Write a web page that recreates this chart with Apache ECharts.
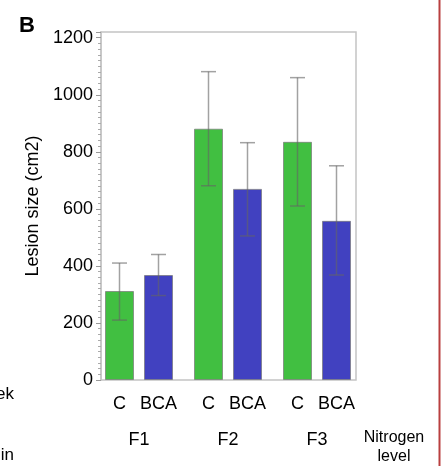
<!DOCTYPE html>
<html>
<head>
<meta charset="utf-8">
<script src="https://cdn.jsdelivr.net/npm/echarts@6/dist/echarts.min.js"></script>
<style>html,body{margin:0;padding:0;background:#fff}#c{width:443px;height:466px}</style>
</head>
<body>
<div id="c"></div>
<script>
// ---- data ----
var groups = ['F1', 'F2', 'F3'];
var seriesNames = ['C', 'BCA'];
var valuesC = [312, 881, 835];
var valuesBCA = [368, 670, 558];
var errLowC = [210, 681, 610];
var errHighC = [410, 1081, 1060];
var errLowBCA = [296, 505, 368];
var errHighBCA = [440, 832, 751];
var yTicks = [0, 200, 400, 600, 800, 1000, 1200];

var FONT = 'Liberation Sans, Arial, sans-serif';
var BAR_W = 29, GAP_PX = 10;
var HALF = (BAR_W + GAP_PX) / 2;
var YMAX = 1220;

function errSeries(lows, highs, dir) {
  return {
    type: 'custom', xAxisIndex: 1, yAxisIndex: 1, z: 5,
    data: groups.map(function (g, i) { return [i, lows[i], highs[i]]; }),
    encode: { x: 0, y: [1, 2] },
    renderItem: function (params, api) {
      var lo = api.coord([api.value(0), api.value(1)]);
      var hi = api.coord([api.value(0), api.value(2)]);
      var x = lo[0] + dir * HALF;
      var cap = 7.5;
      var st = { stroke: 'rgba(100,100,100,0.6)', lineWidth: 1.5 };
      return {
        type: 'group',
        children: [
          { type: 'line', shape: { x1: x, y1: lo[1], x2: x, y2: hi[1] }, style: st },
          { type: 'line', shape: { x1: x - cap, y1: hi[1], x2: x + cap, y2: hi[1] }, style: st },
          { type: 'line', shape: { x1: x - cap, y1: lo[1], x2: x + cap, y2: lo[1] }, style: st }
        ]
      };
    }
  };
}

var chart = echarts.init(document.getElementById('c'), null, { renderer: 'canvas' });
chart.setOption({
  animation: false,
  backgroundColor: '#fff',
  grid: [
    { left: 101, right: 87, top: 32, bottom: 86, show: true, borderColor: '#c4c4c4', borderWidth: 1.5, backgroundColor: 'transparent' },
    { left: 94.5, width: 267, top: 32, bottom: 86 }
  ],
  xAxis: [
    { gridIndex: 0, type: 'value', min: 0, max: 1, show: false },
    { gridIndex: 1, type: 'category', data: groups,
      axisLine: { show: false }, axisTick: { show: false },
      axisLabel: { margin: 51, color: '#000', fontFamily: FONT, fontSize: 18 } }
  ],
  yAxis: [
    { gridIndex: 0, type: 'value', min: 0, max: YMAX, interval: 200,
      name: 'Lesion size (cm2)', nameLocation: 'middle', nameGap: 52,
      nameTextStyle: { color: '#000', fontFamily: FONT, fontSize: 18 },
      axisLine: { show: true, lineStyle: { color: '#c4c4c4', width: 1.5 } },
      axisTick: { show: true, length: 5, lineStyle: { color: '#999' } },
      minorTick: { show: true, splitNumber: 10, length: 3, lineStyle: { color: '#aaa' } },
      splitLine: { show: false },
      axisLabel: { margin: 8, color: '#000', fontFamily: FONT, fontSize: 18, showMaxLabel: false,
        formatter: function (v) { return yTicks.indexOf(v) >= 0 ? String(v) : ''; } } },
    { gridIndex: 1, type: 'value', min: 0, max: YMAX, show: false }
  ],
  series: [
    { type: 'bar', name: seriesNames[0], xAxisIndex: 1, yAxisIndex: 1, data: valuesC,
      barWidth: BAR_W, barGap: (GAP_PX / BAR_W * 100) + '%',
      itemStyle: { color: '#41bf41', borderColor: 'rgba(120,120,120,0.7)', borderWidth: 1 },
      label: { show: true, position: 'bottom', distance: 15, formatter: seriesNames[0], color: '#000', fontFamily: FONT, fontSize: 18 } },
    { type: 'bar', name: seriesNames[1], xAxisIndex: 1, yAxisIndex: 1, data: valuesBCA,
      barWidth: BAR_W,
      itemStyle: { color: '#4141c0', borderColor: 'rgba(120,120,120,0.7)', borderWidth: 1 },
      label: { show: true, position: 'bottom', distance: 15, formatter: seriesNames[1], color: '#000', fontFamily: FONT, fontSize: 18 } },
    errSeries(errLowC, errHighC, -1),
    errSeries(errLowBCA, errHighBCA, 1)
  ],
  graphic: [
    { type: 'text', x: 27, y: 26, style: { text: 'B', font: 'bold 22px ' + FONT, fill: '#000', align: 'center', verticalAlign: 'middle' } },
    { type: 'text', x: 394, y: 447, style: { text: 'Nitrogen\nlevel', font: '16px ' + FONT, fill: '#000', align: 'center', verticalAlign: 'middle', lineHeight: 19 } },
    { type: 'text', x: 14, y: 394, style: { text: 'ek', font: '17px ' + FONT, fill: '#000', align: 'right', verticalAlign: 'middle' } },
    { type: 'text', x: 14, y: 455, style: { text: 'in', font: '17px ' + FONT, fill: '#000', align: 'right', verticalAlign: 'middle' } },
    { type: 'line', shape: { x1: 439.5, y1: 0, x2: 439.5, y2: 466 }, style: { stroke: '#b94040', lineWidth: 2 } }
  ]
});
</script>
</body>
</html>
